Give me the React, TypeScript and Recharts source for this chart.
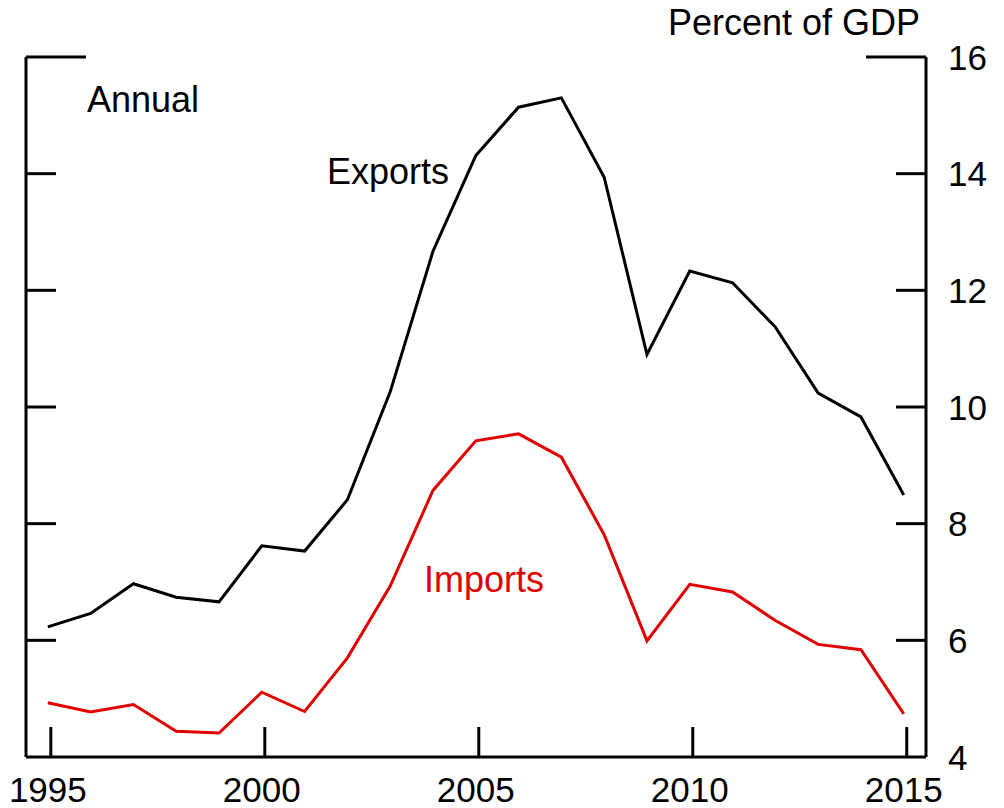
import React from 'react';
import { LineChart, Line, XAxis, YAxis } from 'recharts';

const years = [1995, 1996, 1997, 1998, 1999, 2000, 2001, 2002, 2003, 2004, 2005, 2006, 2007, 2008, 2009, 2010, 2011, 2012, 2013, 2014, 2015];
const exportsPct = [6.23, 6.46, 6.97, 6.74, 6.66, 7.62, 7.53, 8.41, 10.26, 12.67, 14.31, 15.14, 15.3, 13.94, 10.9, 12.33, 12.13, 11.37, 10.24, 9.83, 8.49];
const importsPct = [4.93, 4.77, 4.9, 4.44, 4.41, 5.11, 4.78, 5.7, 6.93, 8.57, 9.42, 9.54, 9.14, 7.81, 5.99, 6.96, 6.83, 6.34, 5.93, 5.84, 4.74];
const xTicks = [1995, 2000, 2005, 2010, 2015];
const yTicks = [4, 6, 8, 10, 12, 14, 16];

const FONT = 'Arial, "Liberation Sans", sans-serif';
const RED = '#e00000';
const PLOT_LEFT = 26;

const data = years.map((year, i) => ({ year, exports: exportsPct[i], imports: importsPct[i] }));

// ticks point inward on both sides, so draw them here with the labels
const RightTick = (props: any) => {
  const { x, y, payload } = props;
  const len = payload.value === 16 ? 60 : 30;
  return (
    <g>
      {payload.value !== 4 && (
        <>
          <line x1={x - len} x2={x} y1={y} y2={y} stroke="#000" strokeWidth={3} />
          <line x1={PLOT_LEFT} x2={PLOT_LEFT + len} y1={y} y2={y} stroke="#000" strokeWidth={3} />
        </>
      )}
      <text x={x + 22} y={y} dy="0.36em" fontSize={35} fontFamily={FONT} fill="#000" textAnchor="start">
        {payload.value}
      </text>
    </g>
  );
};

const BottomTick = (props: any) => {
  const { x, y, payload } = props;
  return (
    <g>
      <line x1={x + 3} x2={x + 3} y1={y - 30} y2={y} stroke="#000" strokeWidth={3} />
      <text x={x} y={y + 45} fontSize={35} fontFamily={FONT} fill="#000" textAnchor="middle">
        {payload.value}
      </text>
    </g>
  );
};

export default function App() {
  return (
    <div style={{ position: 'absolute', left: 0, top: 0, width: 1004, height: 808, background: '#fff' }}>
      <LineChart width={1004} height={808} data={data} margin={{ top: 57, right: 0, bottom: 0, left: 0 }}>
        <XAxis
          dataKey="year"
          type="number"
          domain={[1994.49, 2015.52]}
          ticks={xTicks}
          height={51}
          tickSize={0}
          tickMargin={0}
          tickLine={false}
          axisLine={{ stroke: '#000', strokeWidth: 3 }}
          tick={<BottomTick />}
        />
        <YAxis
          yAxisId="right"
          orientation="right"
          domain={[4, 16]}
          ticks={yTicks}
          width={78}
          tickSize={0}
          tickMargin={0}
          tickLine={false}
          axisLine={{ stroke: '#000', strokeWidth: 3 }}
          tick={<RightTick />}
        />
        <YAxis
          yAxisId="left"
          orientation="left"
          domain={[4, 16]}
          ticks={yTicks}
          width={PLOT_LEFT}
          tickLine={false}
          tick={false}
          axisLine={{ stroke: '#000', strokeWidth: 3 }}
        />
        <Line yAxisId="right" dataKey="exports" stroke="#000" strokeWidth={3} dot={false} isAnimationActive={false} />
        <Line yAxisId="right" dataKey="imports" stroke={RED} strokeWidth={3} dot={false} isAnimationActive={false} />
      </LineChart>
      <svg width={1004} height={808} style={{ position: 'absolute', left: 0, top: 0, pointerEvents: 'none' }}>
        <g fontFamily={FONT} fontSize={36}>
          <text x={920} y={35} textAnchor="end" fill="#000">Percent of GDP</text>
          <text x={87} y={112} fill="#000">Annual</text>
          <text x={327} y={184} fill="#000">Exports</text>
          <text x={424} y={592} fill={RED}>Imports</text>
        </g>
      </svg>
    </div>
  );
}
